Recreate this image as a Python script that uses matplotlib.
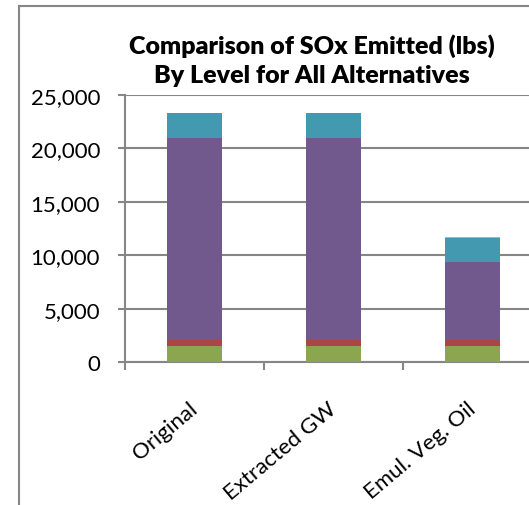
import matplotlib
matplotlib.use("Agg")
import matplotlib.pyplot as plt
from matplotlib.lines import Line2D
from matplotlib.ticker import FuncFormatter, FixedLocator

categories = ["Original", "Extracted GW", "Emul. Veg. Oil"]
level_green = [1500, 1500, 1500]
level_red = [530, 530, 530]
level_purple = [18970, 18970, 7360]
level_teal = [2310, 2310, 2250]
level_orange = [40, 40, 110]
yticks = [0, 5000, 10000, 15000, 20000, 25000]

series = [level_green, level_red, level_purple, level_teal, level_orange]
colors = ["#8BA64E", "#AA4744", "#71598D", "#4399B0", "#E8A070"]

W, H = 529, 506
fig = plt.figure(figsize=(W / 100, H / 100), dpi=100)
plt.rcParams['font.family'] = ['Lato', 'DejaVu Sans']

ax = fig.add_axes([125 / W, 1 - 363 / H, (542 - 125) / W, 267 / H])
x = list(range(len(categories)))
bottom = [0] * len(categories)
for vals, c in zip(series, colors):
    ax.bar(x, vals, width=0.4, bottom=bottom, color=c, edgecolor='none', zorder=3)
    bottom = [b + v for b, v in zip(bottom, vals)]

ax.set_xlim(-0.5, 2.5)
ax.set_ylim(0, 25000)
ax.yaxis.set_major_locator(FixedLocator(yticks))
ax.yaxis.set_major_formatter(FuncFormatter(lambda v, p: f"{int(v):,}"))
ax.grid(axis='y', color='#868686', linewidth=1.5, zorder=0)
ax.set_axisbelow(True)
for s in ['top', 'right']:
    ax.spines[s].set_visible(False)
for s in ['left', 'bottom']:
    ax.spines[s].set_color('#868686')
    ax.spines[s].set_linewidth(1.5)
ax.tick_params(axis='y', length=5, width=1.5, color='#868686', labelsize=16, pad=13)
ax.set_xticks([-0.5, 0.5, 1.5])
ax.set_xticklabels([])
ax.tick_params(axis='x', length=6, width=1.5, color='#868686')
for xi, lab in zip(x, categories):
    ax.annotate(lab, xy=(xi, 0), xycoords=('data', 'axes fraction'),
                xytext=(3, -35), textcoords='offset points',
                rotation=40, ha='right', va='baseline', rotation_mode='anchor',
                fontsize=16, annotation_clip=False)

fig.text(312 / W, 1 - 61 / H, "Comparison of SOx Emitted (lbs)\nBy Level for All Alternatives",
         ha='center', va='center', fontsize=18, fontweight='heavy', linespacing=1.4)

fig.add_artist(Line2D([19 / W, 19 / W], [0, 1 - 7 / H], transform=fig.transFigure,
                      color='#868686', linewidth=1.5))
fig.add_artist(Line2D([19 / W, 1], [1 - 7 / H, 1 - 7 / H], transform=fig.transFigure,
                      color='#868686', linewidth=1.5))

fig.savefig("out.png", dpi=100)
